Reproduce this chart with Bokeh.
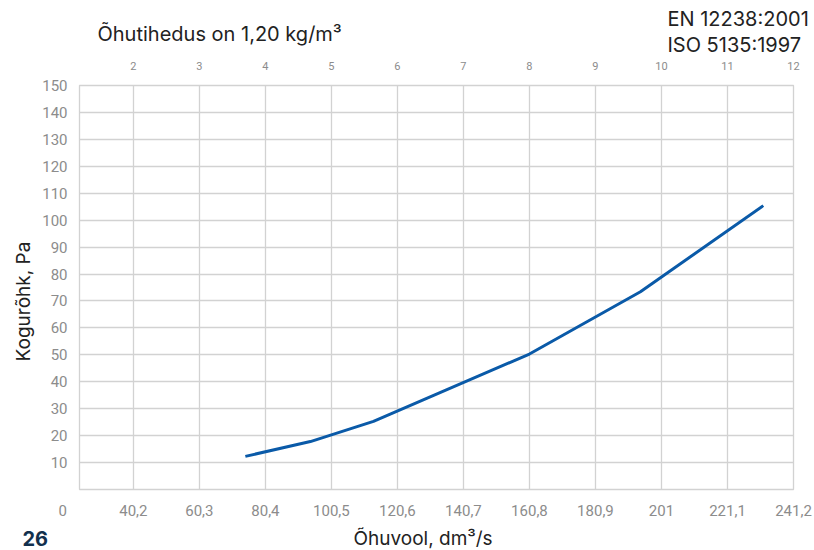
import numpy as np
from bokeh.plotting import figure
from bokeh.layouts import column
from bokeh.models import Range1d, LinearAxis, FixedTicker, Label, Title
from bokeh.embed import file_html
from bokeh.resources import INLINE

# ---- data ----
flow_ticks = [23.8, 40.2, 60.3, 80.4, 100.5, 120.6, 140.7, 160.8, 180.9, 201.0, 221.1, 241.2]
flow_tick_labels = ["0\u00a0\u00a0\u00a0\u00a0\u00a0\u00a0\u00a0\u00a0\u00a0", "40,2", "60,3", "80,4", "100,5", "120,6",
                    "140,7", "160,8", "180,9", "201", "221,1", "241,2"]
grid_ticks = [40.2, 60.3, 80.4, 100.5, 120.6, 140.7, 160.8, 180.9, 201.0, 221.1, 241.2]
velocity_tick_labels = ["2", "3", "4", "5", "6", "7", "8", "9", "10", "11", "12"]
pressure_ticks = [10, 20, 30, 40, 50, 60, 70, 80, 90, 100, 110, 120, 130, 140, 150]

airflow = [74.3, 94.1, 113.3, 160.8, 194.6, 232.0]
pressure = [12.3, 17.8, 25.3, 50.3, 73.4, 105.4]

X_START, X_END = 23.8, 241.2
Y_START, Y_END = 0, 150

W = 814
TICK_GRAY = "#8c8c8c"
GRID = "#d2d2d2"
DARK = "#222222"
LINE = "#0a5aa8"
TITLE_FONT = "Inter"


def text_strip(height):
    f = figure(width=W, height=height, output_backend="svg", toolbar_location=None,
               x_range=Range1d(0, W), y_range=Range1d(height, 0),
               x_axis_type=None, y_axis_type=None, min_border=0)
    f.frame_align = False
    f.outline_line_color = None
    f.xgrid.visible = False
    f.ygrid.visible = False
    return f


def lab(f, text, x, y, size, color=DARK, style="normal"):
    f.add_layout(Label(x=x, y=y, text=text, text_font=TITLE_FONT, text_font_size=size,
                       text_color=color, text_align="left", text_baseline="middle",
                       text_font_style=style))


# ---- header ----
header = text_strip(57)
lab(header, "Õhutihedus on 1,20 kg/m³", 97, 33, "20px")
lab(header, "EN 12238:2001", 667, 18, "20px")
lab(header, "ISO 5135:1997", 667, 44, "20px")

# ---- main chart ----
p = figure(width=W, height=465, output_backend="svg", toolbar_location=None,
           x_range=Range1d(X_START, X_END), y_range=Range1d(Y_START, Y_END),
           min_border_left=79, min_border_right=21, min_border_top=28, min_border_bottom=27)

p.outline_line_color = GRID
p.outline_line_width = 1.3

xa = p.xaxis[0]
xa.ticker = FixedTicker(ticks=flow_ticks)
xa.major_label_overrides = {t: l for t, l in zip(flow_ticks, flow_tick_labels)}
xa.major_label_text_font = "Roboto"
xa.major_label_text_font_size = "15px"
xa.major_label_text_color = TICK_GRAY
xa.major_label_standoff = 6
xa.axis_line_color = None
xa.major_tick_line_color = None
xa.minor_tick_line_color = None

ya = p.yaxis[0]
ya.ticker = FixedTicker(ticks=pressure_ticks)
ya.major_label_text_font = "Roboto"
ya.major_label_text_font_size = "15px"
ya.major_label_text_color = TICK_GRAY
ya.major_label_standoff = 6
ya.axis_line_color = None
ya.major_tick_line_color = None
ya.minor_tick_line_color = None

ta = LinearAxis(ticker=FixedTicker(ticks=grid_ticks),
                major_label_overrides={t: l for t, l in zip(grid_ticks, velocity_tick_labels)})
ta.major_label_text_font = "Roboto"
ta.major_label_text_font_size = "11px"
ta.major_label_text_color = TICK_GRAY
ta.major_label_standoff = 10
ta.axis_line_color = None
ta.major_tick_line_color = None
ta.minor_tick_line_color = None
p.add_layout(ta, "above")

p.add_layout(Title(text="Kogurõhk, Pa", align="left", offset=128, standoff=10,
                   text_font=TITLE_FONT, text_font_size="19px", text_color=DARK,
                   text_font_style="normal"), "left")

p.xgrid.ticker = FixedTicker(ticks=grid_ticks)
p.ygrid.ticker = FixedTicker(ticks=pressure_ticks)
for g in (p.xgrid[0], p.ygrid[0]):
    g.grid_line_color = GRID
    g.grid_line_width = 1.3

p.line(airflow, pressure, line_color=LINE, line_width=3)

# ---- footer ----
footer = text_strip(28)
lab(footer, "26", 22, 16, "20px", color="#12304d", style="bold")
lab(footer, "Õhuvool, dm³/s", 353, 16, "19px")

layout = column(header, p, footer, spacing=0)
open("out.html", "w").write(file_html(layout, INLINE))
